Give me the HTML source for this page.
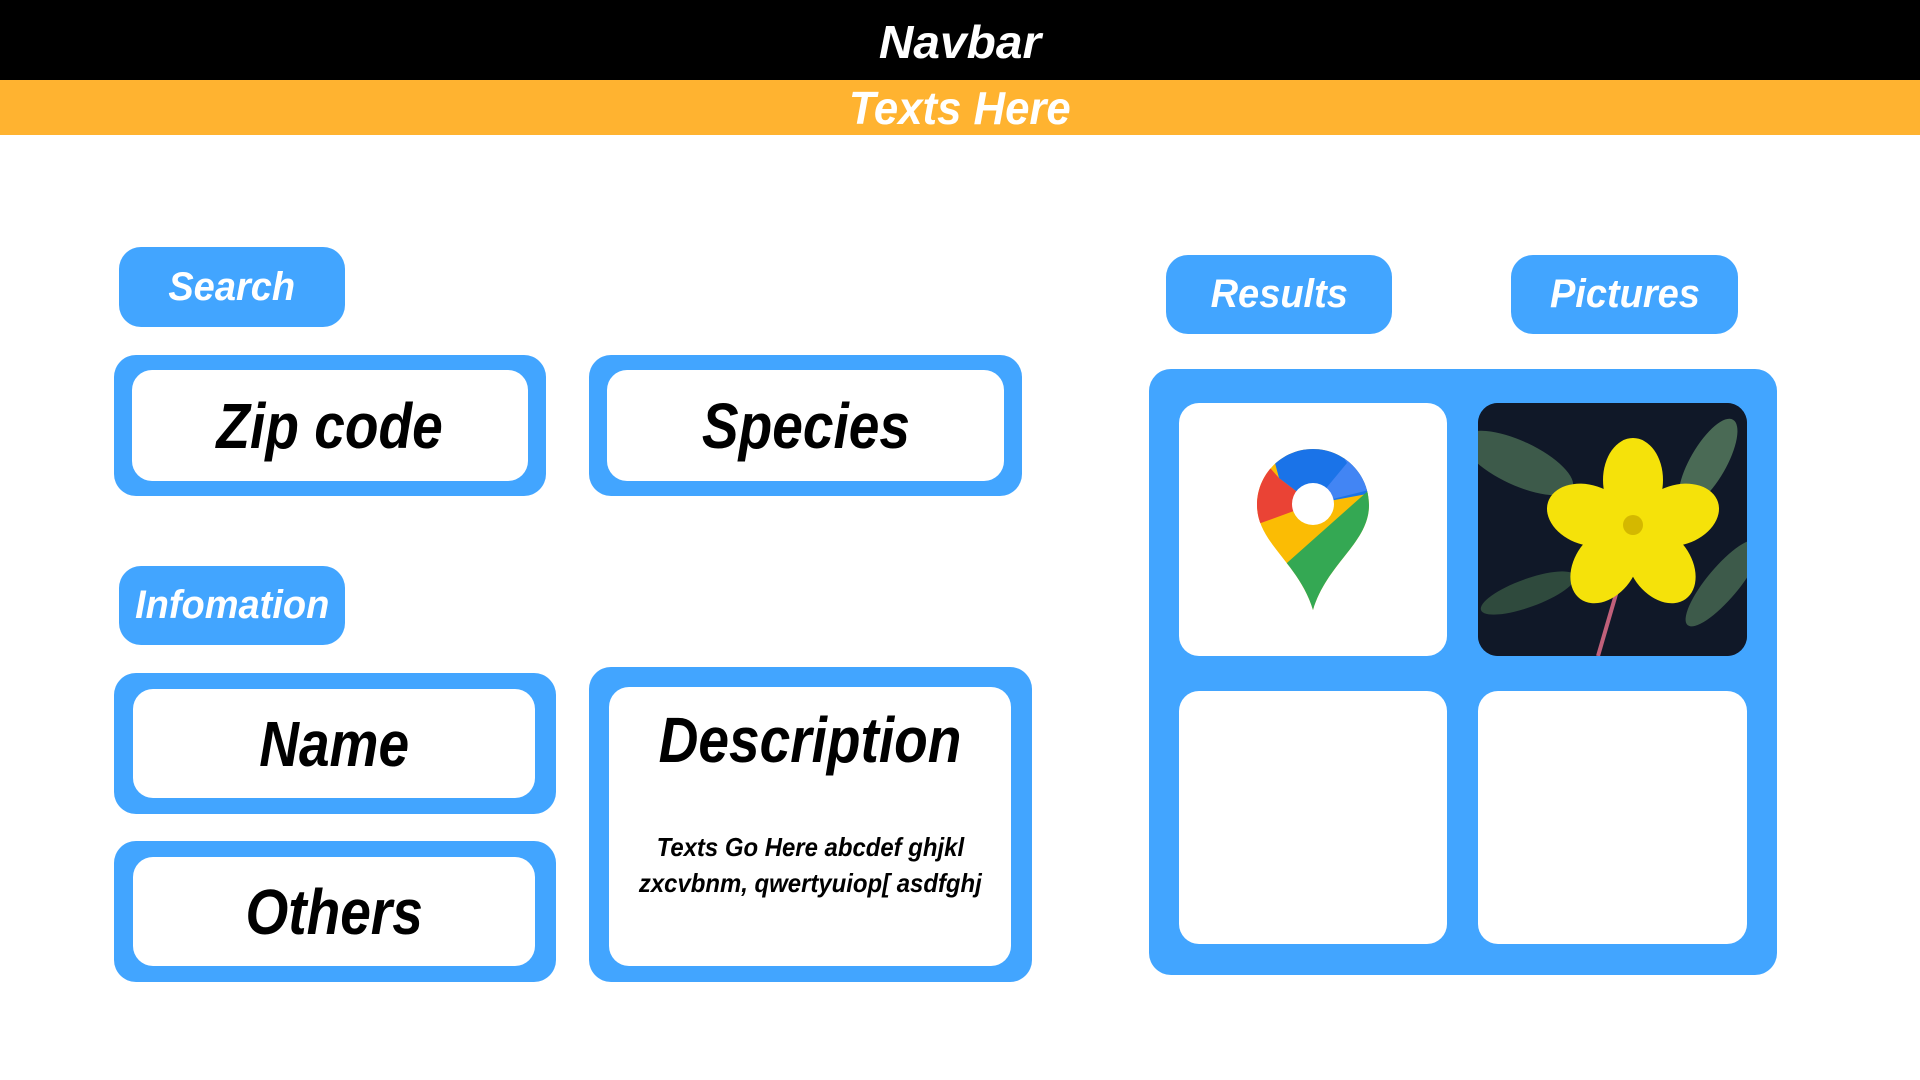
<!DOCTYPE html>
<html><head><meta charset="utf-8"><style>
*{margin:0;padding:0;box-sizing:border-box}
body{width:1920px;height:1080px;background:#fff;position:relative;overflow:hidden;font-family:"Liberation Sans Narrow","Liberation Sans",sans-serif;font-weight:bold;font-style:italic}
.a{position:absolute}
.t{display:inline-block;transform:scaleX(0.86)}
.s{display:inline-block;transform:scaleX(1.04)}
.p{display:inline-block;transform:scaleX(0.95)}
.q{display:inline-block;transform:scaleX(0.92)}
.nav{left:0;top:0;width:1920px;height:80px;background:#000;color:#fff;font-size:46px;text-align:center;line-height:84px}
.or{left:0;top:80px;width:1920px;height:55px;background:#FFB330;color:#fff;font-size:46px;text-align:center;line-height:56px}
.pill{background:#42A5FF;color:#fff;border-radius:22px;font-size:40px;text-align:center;display:flex;align-items:center;justify-content:center}
.box{background:#42A5FF;border-radius:22px}
.in{background:#fff;border-radius:20px;position:absolute;display:flex;align-items:center;justify-content:center;font-size:64px;color:#000}
.cell{background:#fff;border-radius:20px;position:absolute;overflow:hidden}
</style></head><body>
<div class="a nav"><span class="s">Navbar</span></div>
<div class="a or"><span class="p">Texts Here</span></div>

<div class="a pill" style="left:119px;top:247px;width:226px;height:80px"><span class="p">Search</span></div>
<div class="a box" style="left:114px;top:355px;width:432px;height:141px"><div class="in" style="left:18px;top:15px;width:396px;height:111px"><span class="t">Zip code</span></div></div>
<div class="a box" style="left:589px;top:355px;width:433px;height:141px"><div class="in" style="left:18px;top:15px;width:397px;height:111px"><span class="t">Species</span></div></div>

<div class="a pill" style="left:119px;top:566px;width:226px;height:79px"><span class="p">Infomation</span></div>
<div class="a box" style="left:114px;top:673px;width:442px;height:141px"><div class="in" style="left:19px;top:16px;width:402px;height:109px"><span class="t">Name</span></div></div>
<div class="a box" style="left:114px;top:841px;width:442px;height:141px"><div class="in" style="left:19px;top:16px;width:402px;height:109px"><span class="t">Others</span></div></div>
<div class="a box" style="left:589px;top:667px;width:443px;height:315px"><div class="in" style="left:20px;top:20px;width:402px;height:279px;display:block;text-align:center">
<div style="font-size:64px;margin-top:16px"><span class="t">Description</span></div>
<div style="font-size:26px;line-height:36px;margin-top:52px"><span class="q">Texts Go Here abcdef ghjkl<br>zxcvbnm, qwertyuiop[ asdfghj</span></div></div></div>

<div class="a pill" style="left:1166px;top:255px;width:226px;height:79px"><span class="p">Results</span></div>
<div class="a pill" style="left:1511px;top:255px;width:227px;height:79px"><span class="p">Pictures</span></div>

<div class="a box" style="left:1149px;top:369px;width:628px;height:606px">
<div class="cell" style="left:30px;top:34px;width:268px;height:253px">
<svg width="268" height="253" viewBox="0 0 268 253">
<defs><clipPath id="p"><path d="M134 46 C103 46 78 71 78 102 C78 140 120 160 134 207 C148 160 190 140 190 102 C190 71 165 46 134 46Z"/></clipPath></defs>
<g clip-path="url(#p)">
<rect x="60" y="30" width="150" height="200" fill="#FBBC04"/>
<polygon points="60,30 100,75 134,101 60,128" fill="#EA4335"/>
<polygon points="60,30 210,30 210,87 134,101 100,75 88,30" fill="#1A73E8"/>
<polygon points="150,30 210,30 210,87 190,87 134,101 168,60" fill="#4285F4"/>
<polygon points="210,70 190,87 100,167 100,230 210,230" fill="#34A853"/>
</g>
<circle cx="134" cy="101" r="21" fill="#fff"/>
</svg></div>
<div class="cell" style="left:329px;top:34px;width:269px;height:253px;background:#0d1420">
<svg width="269" height="253" viewBox="0 0 269 253">
<rect width="269" height="253" fill="#101828"/>
<ellipse cx="40" cy="60" rx="60" ry="22" fill="#3d5a4a" transform="rotate(25 40 60)"/>
<ellipse cx="230" cy="60" rx="50" ry="18" fill="#4a6a55" transform="rotate(-60 230 60)"/>
<ellipse cx="245" cy="180" rx="55" ry="16" fill="#3d5a4a" transform="rotate(-50 245 180)"/>
<ellipse cx="50" cy="190" rx="50" ry="14" fill="#2f4a3d" transform="rotate(-20 50 190)"/>
<line x1="120" y1="253" x2="150" y2="150" stroke="#c0607a" stroke-width="4"/>
<g fill="#F5E20A" transform="translate(155 122)">
<ellipse cx="0" cy="-45" rx="30" ry="42"/>
<ellipse cx="45" cy="-10" rx="30" ry="42" transform="rotate(72 45 -10)"/>
<ellipse cx="28" cy="40" rx="30" ry="42" transform="rotate(144 28 40)"/>
<ellipse cx="-28" cy="40" rx="30" ry="42" transform="rotate(216 -28 40)"/>
<ellipse cx="-45" cy="-10" rx="30" ry="42" transform="rotate(288 -45 -10)"/>
<circle r="10" fill="#d4b800"/>
</g></svg></div>
<div class="cell" style="left:30px;top:322px;width:268px;height:253px"></div>
<div class="cell" style="left:329px;top:322px;width:269px;height:253px"></div>
</div>
</body></html>
